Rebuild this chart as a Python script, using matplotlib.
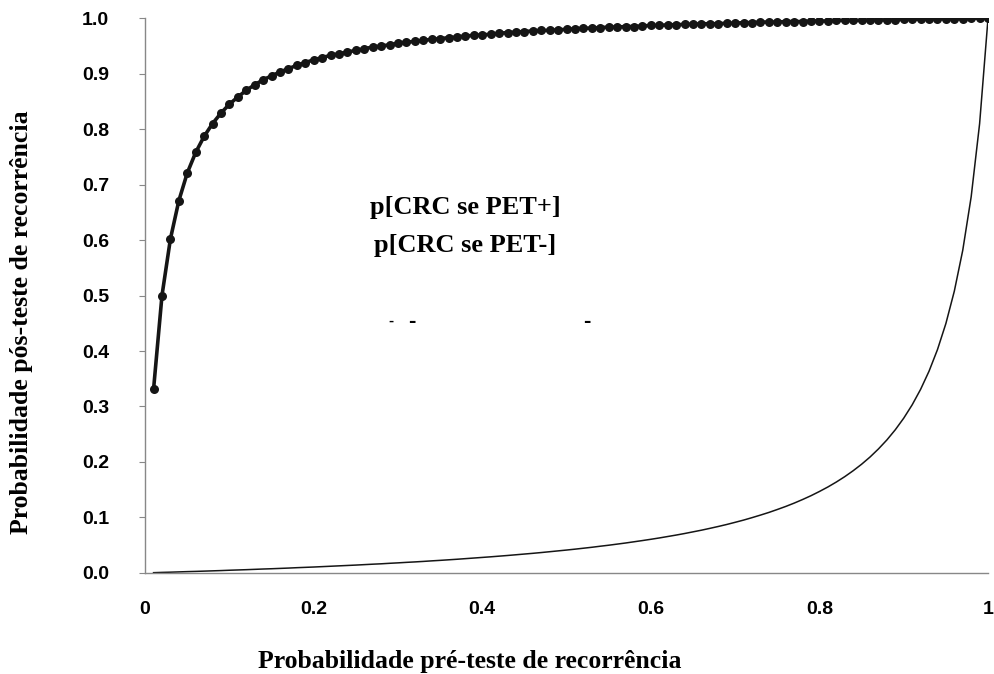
import matplotlib
matplotlib.use("Agg")
import matplotlib.pyplot as plt

# pre-test probability (x) and post-test probabilities
pre_test = [0.01, 0.02, 0.03, 0.04, 0.05, 0.06, 0.07, 0.08, 0.09, 0.10,
            0.11, 0.12, 0.13, 0.14, 0.15, 0.16, 0.17, 0.18, 0.19, 0.20,
            0.21, 0.22, 0.23, 0.24, 0.25, 0.26, 0.27, 0.28, 0.29, 0.30,
            0.31, 0.32, 0.33, 0.34, 0.35, 0.36, 0.37, 0.38, 0.39, 0.40,
            0.41, 0.42, 0.43, 0.44, 0.45, 0.46, 0.47, 0.48, 0.49, 0.50,
            0.51, 0.52, 0.53, 0.54, 0.55, 0.56, 0.57, 0.58, 0.59, 0.60,
            0.61, 0.62, 0.63, 0.64, 0.65, 0.66, 0.67, 0.68, 0.69, 0.70,
            0.71, 0.72, 0.73, 0.74, 0.75, 0.76, 0.77, 0.78, 0.79, 0.80,
            0.81, 0.82, 0.83, 0.84, 0.85, 0.86, 0.87, 0.88, 0.89, 0.90,
            0.91, 0.92, 0.93, 0.94, 0.95, 0.96, 0.97, 0.98, 0.99, 1.00]

pet_pos = [0.331, 0.500, 0.602, 0.671, 0.721, 0.758, 0.787, 0.810, 0.829, 0.845,
           0.858, 0.870, 0.880, 0.889, 0.896, 0.903, 0.909, 0.915, 0.920, 0.925,
           0.929, 0.933, 0.936, 0.939, 0.942, 0.945, 0.948, 0.950, 0.952, 0.955,
           0.957, 0.958, 0.960, 0.962, 0.963, 0.965, 0.966, 0.968, 0.969, 0.970,
           0.971, 0.973, 0.974, 0.975, 0.976, 0.977, 0.978, 0.978, 0.979, 0.980,
           0.981, 0.982, 0.982, 0.983, 0.984, 0.984, 0.985, 0.985, 0.986, 0.987,
           0.987, 0.988, 0.988, 0.989, 0.989, 0.990, 0.990, 0.990, 0.991, 0.991,
           0.992, 0.992, 0.993, 0.993, 0.993, 0.994, 0.994, 0.994, 0.995, 0.995,
           0.995, 0.996, 0.996, 0.996, 0.996, 0.997, 0.997, 0.997, 0.997, 0.998,
           0.998, 0.998, 0.999, 0.999, 0.999, 0.999, 0.999, 1.000, 1.000, 1.000]

pet_neg = [0.0004, 0.0009, 0.0013, 0.0018, 0.0023, 0.0027, 0.0032, 0.0037, 0.0042, 0.0048,
           0.0053, 0.0058, 0.0064, 0.0070, 0.0075, 0.0081, 0.0087, 0.0094, 0.0100, 0.0106,
           0.0113, 0.0120, 0.0127, 0.0134, 0.0141, 0.0149, 0.0157, 0.0164, 0.0173, 0.0181,
           0.0190, 0.0198, 0.0207, 0.0217, 0.0226, 0.0236, 0.0246, 0.0257, 0.0268, 0.0279,
           0.0290, 0.0302, 0.0314, 0.0327, 0.0340, 0.0353, 0.0367, 0.0382, 0.0397, 0.0412,
           0.0428, 0.0445, 0.0462, 0.0481, 0.0499, 0.0519, 0.0539, 0.0561, 0.0583, 0.0606,
           0.0630, 0.0656, 0.0682, 0.0710, 0.0740, 0.0770, 0.0803, 0.0837, 0.0873, 0.0912,
           0.0952, 0.0996, 0.1042, 0.1090, 0.1143, 0.1198, 0.1258, 0.1323, 0.1392, 0.1468,
           0.1549, 0.1638, 0.1735, 0.1842, 0.1959, 0.2089, 0.2235, 0.2397, 0.2581, 0.2790,
           0.3030, 0.3309, 0.3636, 0.4025, 0.4496, 0.5079, 0.5816, 0.6781, 0.8098, 1.0000]

x_ticks = [0, 0.2, 0.4, 0.6, 0.8, 1.0]
x_tick_labels = ["0", "0.2", "0.4", "0.6", "0.8", "1"]
y_ticks = [0.0, 0.1, 0.2, 0.3, 0.4, 0.5, 0.6, 0.7, 0.8, 0.9, 1.0]

serif = "Liberation Serif"
sans = "Liberation Sans"

fig = plt.figure(figsize=(9.94, 6.74), dpi=100)
ax = fig.add_axes([0.146, 0.150, 0.848, 0.823])

ax.plot(pre_test, pet_pos, color="#151515", linewidth=2.6,
        marker="o", markersize=6.5, markerfacecolor="#151515", markeredgewidth=0)
ax.plot(pre_test, pet_neg, color="#151515", linewidth=1.1)

ax.set_xlim(0, 1.0)
ax.set_ylim(0, 1.0)
ax.set_xticks(x_ticks)
ax.set_xticklabels(x_tick_labels)
ax.set_yticks(y_ticks)
ax.set_yticklabels([f"{v:.1f}" for v in y_ticks])

for lab in ax.get_xticklabels() + ax.get_yticklabels():
    lab.set_fontfamily(sans)
    lab.set_fontweight("bold")
    lab.set_fontsize(14)

ax.tick_params(axis="x", length=0, pad=20)
ax.tick_params(axis="y", length=4, width=0.8, color="#888888", pad=22)

for side in ["top", "right"]:
    ax.spines[side].set_visible(False)
for side in ["left", "bottom"]:
    ax.spines[side].set_color("#888888")
    ax.spines[side].set_linewidth(1.0)

# axis titles placed on the figure, as in the original layout
fig.text(0.473, 0.018, "Probabilidade pré-teste de recorrência", fontfamily=serif,
         fontweight="bold", fontsize=18.5, ha="center", va="center")
fig.text(0.022, 0.522, "Probabilidade pós-teste de recorrência", fontfamily=serif,
         fontweight="bold", fontsize=18.5, ha="center", va="center", rotation=90)

# legend text left inside the plot
ax.text(0.38, 0.659, "p[CRC se PET+]", fontfamily=serif, fontweight="bold",
        fontsize=19, ha="center", va="center")
ax.text(0.38, 0.590, "p[CRC se PET-]", fontfamily=serif, fontweight="bold",
        fontsize=19, ha="center", va="center")
ax.text(0.292, 0.454, "-", fontfamily=sans, fontweight="bold", fontsize=11,
        ha="center", va="center")
ax.text(0.316, 0.454, "-", fontfamily=sans, fontweight="bold", fontsize=16,
        ha="center", va="center")
ax.text(0.524, 0.454, "-", fontfamily=sans, fontweight="bold", fontsize=16,
        ha="center", va="center")

fig.savefig("out.png", dpi=100)
